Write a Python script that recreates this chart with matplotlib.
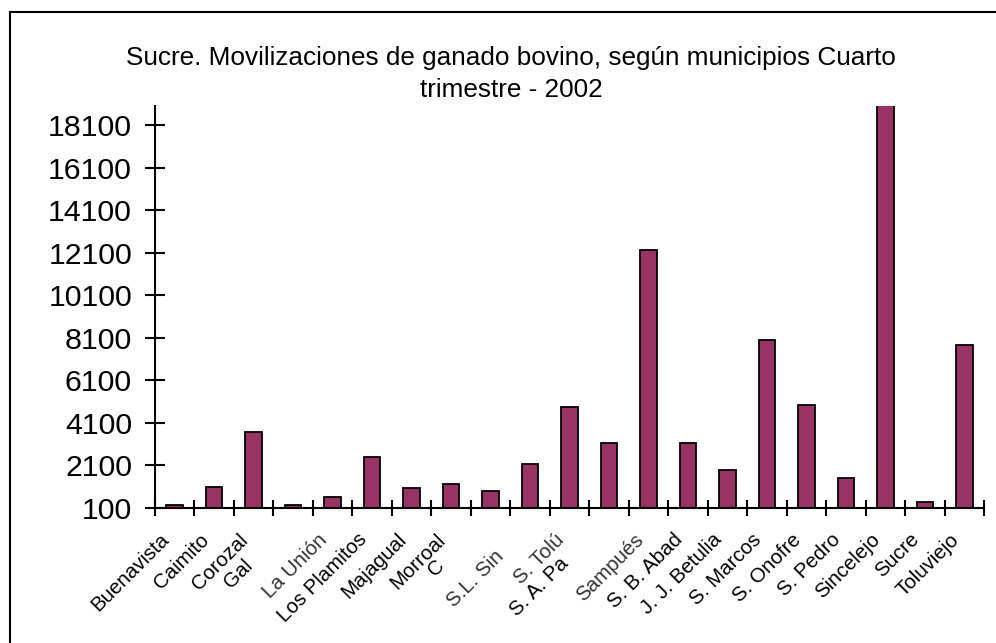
"""
Sucre: cattle movements by municipality, fourth quarter 2002.
"""

import matplotlib
matplotlib.use('Agg')
import matplotlib.pyplot as plt
from matplotlib.patches import Rectangle
import numpy as np

plt.rcParams.update({
    'font.family': ['Liberation Sans', 'DejaVu Sans'],
    'figure.dpi': 100,
})

# labels as they show up in the original export (some are cut off)
municipios = ['Buenavista', 'Caimito', 'Corozal', 'Gal', 'La Unión', 'Los Plamitos',
              'Majagual', 'Morroal', 'C', 'S.L. Sin', 'S. Tolú', 'S. A. Pa', 'Sampués',
              'S. B. Abad', 'J. J. Betulia', 'S. Marcos', 'S. Onofre', 'S. Pedro',
              'Sincelejo', 'Sucre', 'Toluviejo']
movilizaciones = [240, 1090, 3670, 240, 620, 2490, 1040, 1230, 900, 2170, 4840, 3150,
                  12210, 3150, 1880, 7990, 4940, 1510, 20500, 380, 7750]
yticks = list(range(100, 18101, 2000))

TITLE = 'Sucre. Movilizaciones de ganado bovino, según municipios Cuarto\ntrimestre - 2002'
BAR_COLOR = '#993366'

# extra shift (px) for the labels that were displaced in the source chart
LABEL_SHIFT = {'Gal': (-35, -26), 'C': (-41, -26), 'S.L. Sin': (-21, -17), 'S. A. Pa': (-35, -24)}
GRAY_LABELS = {'La Unión', 'S.L. Sin', 'S. Tolú', 'Sampués'}


def main():
    fig = plt.figure(figsize=(9.96, 6.43))
    ax = fig.add_axes([0.1556, 0.21, 0.8324, 0.625])

    # outer frame (right/bottom run off the image)
    fig.patches.append(Rectangle((10 / 996, -0.05), 1.1, 1 - 12 / 643 + 0.05,
                                 transform=fig.transFigure, fill=False,
                                 edgecolor='black', linewidth=1.5))

    x = np.arange(len(municipios))
    ax.bar(x, movilizaciones, width=0.42, color=BAR_COLOR, edgecolor='black',
           linewidth=1.3, zorder=2)

    ax.set_xlim(-0.5, len(municipios) - 0.5)
    ax.set_ylim(100, 19000)
    ax.set_yticks(yticks)
    ax.set_xticks(np.arange(len(municipios) + 1) - 0.5)
    ax.set_xticklabels([])

    for s in ['top', 'right']:
        ax.spines[s].set_visible(False)
    for s in ['left', 'bottom']:
        ax.spines[s].set_linewidth(1.5)
    ax.tick_params(axis='y', direction='inout', length=15, width=1.5, labelsize=21.8, pad=9)
    ax.tick_params(axis='x', direction='inout', length=11, width=1.5)

    px = 72 / 100  # pixels -> points
    for i, name in enumerate(municipios):
        dx, dy = LABEL_SHIFT.get(name, (0, 0))
        ax.annotate(name, xy=(i, 0), xycoords=('data', 'axes fraction'),
                    xytext=((-15 + dx) * px, (-22 + dy) * px), textcoords='offset points',
                    rotation=45, rotation_mode='anchor', ha='right', va='top',
                    fontsize=14.8, color='#333333' if name in GRAY_LABELS else 'black')

    fig.text(0.513, 0.885, TITLE, ha='center', va='center', fontsize=18.8, linespacing=1.38)

    fig.savefig('out.png', dpi=100)
    plt.close()


if __name__ == "__main__":
    main()
